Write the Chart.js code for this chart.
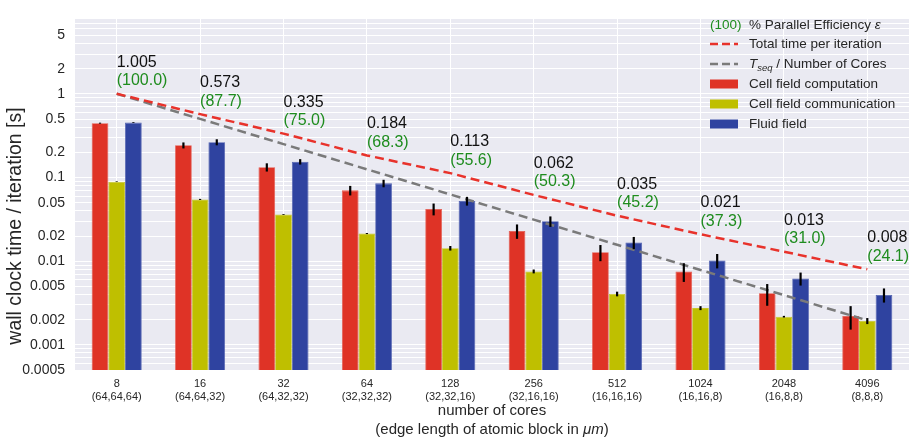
<!DOCTYPE html>
<html>
<head>
<meta charset="utf-8">
<script src="https://cdn.jsdelivr.net/npm/chart.js@4.4.1/dist/chart.umd.min.js"></script>
<style>
  html, body { margin: 0; padding: 0; background: #fff; }
</style>
</head>
<body>
<canvas id="chart" width="917" height="439"></canvas>
<script>
// data
const cores = ['8', '16', '32', '64', '128', '256', '512', '1024', '2048', '4096'];
const blocks = ['(64,64,64)', '(64,64,32)', '(64,32,32)', '(32,32,32)', '(32,32,16)',
                '(32,16,16)', '(16,16,16)', '(16,16,8)', '(16,8,8)', '(8,8,8)'];

const cellComp    = [0.447, 0.243, 0.133, 0.0703, 0.0421, 0.0230, 0.0128, 0.00755, 0.00413, 0.00221];
const cellCompErr = [0.006, 0.020, 0.015, 0.0092, 0.0068, 0.0045, 0.0028, 0.0019, 0.0012, 0.00069];
const cellComm    = [0.0892, 0.0548, 0.0361, 0.0214, 0.0143, 0.00755, 0.00406, 0.00275, 0.00217, 0.00193];
const cellCommErr = [0.0008, 0.0008, 0.0004, 0.0003, 0.0009, 0.0004, 0.00026, 0.00015, 0.00005, 0.00016];
const fluid       = [0.454, 0.265, 0.1545, 0.0853, 0.0525, 0.0300, 0.0167, 0.0102, 0.00621, 0.00396];
const fluidErr    = [0.005, 0.022, 0.0115, 0.0088, 0.0063, 0.0043, 0.0028, 0.0020, 0.0011, 0.00076];

const totalTime  = [1.005, 0.573, 0.335, 0.184, 0.113, 0.062, 0.035, 0.021, 0.013, 0.008];
const idealTime  = [1.005, 0.5025, 0.2513, 0.1256, 0.0628, 0.0314, 0.0157, 0.00785, 0.00393, 0.00196];
const efficiency = [100.0, 87.7, 75.0, 68.3, 55.6, 50.3, 45.2, 37.3, 31.0, 24.1];

const yTickLabels = [5, 2, 1, 0.5, 0.2, 0.1, 0.05, 0.02, 0.01, 0.005, 0.002, 0.001, 0.0005];
const yMin = 0.0005;
const yMax = 8;

const FONT = '"Liberation Sans", Arial, Helvetica, sans-serif';
const TEXT = '#262626';
const GREEN = '#1E8C1E';
const RED_BAR = '#DF3326';
const YELLOW_BAR = '#BFBF00';
const BLUE_BAR = '#2F43A0';
const RED_LINE = '#E8322B';
const GRAY_LINE = '#7A7A7A';

// grey plot background
const backgroundPlugin = {
    id: 'bg',
    beforeDraw(chart) {
        const { ctx, chartArea: a } = chart;
        ctx.save();
        ctx.fillStyle = '#EAEAF2';
        ctx.fillRect(a.left, a.top, a.right - a.left, a.bottom - a.top);
        ctx.restore();
    }
};

// vertical error bars on the bar datasets
const errorBarPlugin = {
    id: 'errorBars',
    afterDatasetsDraw(chart) {
        const { ctx } = chart;
        const y = chart.scales.y;
        ctx.save();
        ctx.strokeStyle = '#000';
        ctx.lineWidth = 2.2;
        chart.data.datasets.forEach((ds, i) => {
            if (!ds.errors) return;
            const meta = chart.getDatasetMeta(i);
            meta.data.forEach((bar, j) => {
                const v = ds.data[j], e = ds.errors[j];
                ctx.beginPath();
                ctx.moveTo(bar.x, y.getPixelForValue(v + e));
                ctx.lineTo(bar.x, y.getPixelForValue(v - e));
                ctx.stroke();
            });
        });
        ctx.restore();
    }
};

// time + efficiency labels above the total time line
const annotationPlugin = {
    id: 'annotations',
    afterDatasetsDraw(chart) {
        const { ctx } = chart;
        const idx = chart.data.datasets.findIndex(d => d.label === 'Total time per iteration');
        const meta = chart.getDatasetMeta(idx);
        ctx.save();
        ctx.font = '16px ' + FONT;
        ctx.textAlign = 'left';
        ctx.textBaseline = 'alphabetic';
        meta.data.forEach((pt, i) => {
            ctx.fillStyle = '#111';
            ctx.fillText(totalTime[i].toFixed(3), pt.x, pt.y - 27);
            ctx.fillStyle = GREEN;
            ctx.fillText('(' + efficiency[i].toFixed(1) + ')', pt.x, pt.y - 8.5);
        });
        ctx.restore();
    }
};

// legend inside the plot + axis titles
const legendPlugin = {
    id: 'customLegend',
    afterDraw(chart) {
        const { ctx, chartArea: a } = chart;
        const hx = 710, tx = 749;
        const rows = [25, 44, 64, 84, 104, 124];
        ctx.save();
        ctx.textBaseline = 'middle';
        ctx.textAlign = 'left';
        ctx.font = '13.5px ' + FONT;

        // row 1
        ctx.fillStyle = GREEN;
        ctx.fillText('(100)', hx, rows[0]);
        ctx.fillStyle = TEXT;
        const t1 = '% Parallel Efficiency ';
        ctx.fillText(t1, tx, rows[0]);
        let w = ctx.measureText(t1).width;
        ctx.font = 'italic 13.5px ' + FONT;
        ctx.fillText('ε', tx + w, rows[0]);

        // dashed line handles
        ctx.lineWidth = 2.5;
        ctx.setLineDash([8, 4]);
        [[RED_LINE, rows[1]], [GRAY_LINE, rows[2]]].forEach(([c, yy]) => {
            ctx.strokeStyle = c;
            ctx.beginPath();
            ctx.moveTo(hx, yy);
            ctx.lineTo(hx + 28, yy);
            ctx.stroke();
        });
        ctx.setLineDash([]);

        ctx.font = '13.5px ' + FONT;
        ctx.fillStyle = TEXT;
        ctx.fillText('Total time per iteration', tx, rows[1]);

        ctx.font = 'italic 13.5px ' + FONT;
        ctx.fillText('T', tx, rows[2]);
        w = ctx.measureText('T').width;
        ctx.font = 'italic 9.5px ' + FONT;
        ctx.fillText('seq', tx + w, rows[2] + 4);
        w += ctx.measureText('seq').width;
        ctx.font = '13.5px ' + FONT;
        ctx.fillText(' / Number of Cores', tx + w, rows[2]);

        const patches = [[RED_BAR, 'Cell field computation'], [YELLOW_BAR, 'Cell field communication'], [BLUE_BAR, 'Fluid field']];
        patches.forEach(([c, label], k) => {
            const yy = rows[3 + k];
            ctx.fillStyle = c;
            ctx.fillRect(hx, yy - 4.5, 28, 9);
            ctx.fillStyle = TEXT;
            ctx.fillText(label, tx, yy);
        });

        // y axis title
        ctx.save();
        ctx.translate(21, 226);
        ctx.rotate(-Math.PI / 2);
        ctx.textAlign = 'center';
        ctx.textBaseline = 'alphabetic';
        ctx.font = '19.5px ' + FONT;
        ctx.fillStyle = TEXT;
        ctx.fillText('wall clock time / iteration [s]', 0, 0);
        ctx.restore();

        // x axis title, two lines, "μm" in italics
        const cx = (a.left + a.right) / 2;
        ctx.font = '15px ' + FONT;
        ctx.fillStyle = TEXT;
        ctx.textAlign = 'center';
        ctx.fillText('number of cores', cx, 411);
        const p1 = '(edge length of atomic block in ';
        const p2 = 'μm';
        const p3 = ')';
        ctx.font = '15px ' + FONT;
        const w1 = ctx.measureText(p1).width, w3 = ctx.measureText(p3).width;
        ctx.font = 'italic 15px ' + FONT;
        const w2 = ctx.measureText(p2).width;
        let sx = cx - (w1 + w2 + w3) / 2;
        ctx.textAlign = 'left';
        ctx.font = '15px ' + FONT;
        ctx.fillText(p1, sx, 430);
        ctx.font = 'italic 15px ' + FONT;
        ctx.fillText(p2, sx + w1, 430);
        ctx.font = '15px ' + FONT;
        ctx.fillText(p3, sx + w1 + w2, 430);
        ctx.restore();
    }
};

const barStyle = { borderWidth: 0.8, categoryPercentage: 0.6, barPercentage: 1.0, order: 2 };

new Chart(document.getElementById('chart'), {
    data: {
        labels: cores.map((c, i) => [c, blocks[i]]),
        datasets: [
            {
                type: 'line', label: 'Total time per iteration', data: totalTime,
                borderColor: RED_LINE, borderWidth: 2.5, borderDash: [9, 5],
                pointRadius: 0, fill: false, order: 0
            },
            {
                type: 'line', label: 'Tseq / Number of Cores', data: idealTime,
                borderColor: GRAY_LINE, borderWidth: 2.5, borderDash: [9, 5],
                pointRadius: 0, fill: false, order: 1
            },
            { type: 'bar', label: 'Cell field computation', data: cellComp, errors: cellCompErr,
              backgroundColor: RED_BAR, borderColor: '#E4574C', ...barStyle },
            { type: 'bar', label: 'Cell field communication', data: cellComm, errors: cellCommErr,
              backgroundColor: YELLOW_BAR, borderColor: '#C6C62A', ...barStyle },
            { type: 'bar', label: 'Fluid field', data: fluid, errors: fluidErr,
              backgroundColor: BLUE_BAR, borderColor: '#4C5DAE', ...barStyle }
        ]
    },
    options: {
        responsive: false,
        animation: false,
        devicePixelRatio: 1,
        layout: { padding: { left: 0, right: 8, top: 5, bottom: 0 } },
        plugins: {
            legend: { display: false },
            tooltip: { enabled: false }
        },
        scales: {
            x: {
                type: 'category',
                offset: true,
                grid: { color: '#FFFFFF', lineWidth: 1, offset: false, drawTicks: false },
                border: { display: false },
                ticks: {
                    color: TEXT, font: { family: FONT, size: 11 }, padding: 7,
                    maxRotation: 0, autoSkip: false
                },
                afterFit(scale) { scale.height = 69; }
            },
            y: {
                type: 'logarithmic',
                min: yMin,
                max: yMax,
                grid: { color: '#FFFFFF', lineWidth: 1, drawTicks: false },
                border: { display: false },
                ticks: {
                    color: TEXT, font: { family: FONT, size: 14 }, padding: 10, autoSkip: false,
                    callback(value) {
                        const hit = yTickLabels.find(t => Math.abs(t - value) / t < 1e-6);
                        return hit === undefined ? '' : String(hit);
                    }
                },
                afterBuildTicks(scale) {
                    const ticks = [];
                    for (let e = -4; e <= 0; e++) {
                        for (let m = 1; m <= 9; m++) {
                            const v = m * Math.pow(10, e);
                            if (v >= yMin * 0.999 && v <= yMax * 1.001) ticks.push({ value: v });
                        }
                    }
                    scale.ticks = ticks;
                },
                afterFit(scale) { scale.width = 75; }
            }
        }
    },
    plugins: [backgroundPlugin, errorBarPlugin, annotationPlugin, legendPlugin]
});
</script>
</body>
</html>
